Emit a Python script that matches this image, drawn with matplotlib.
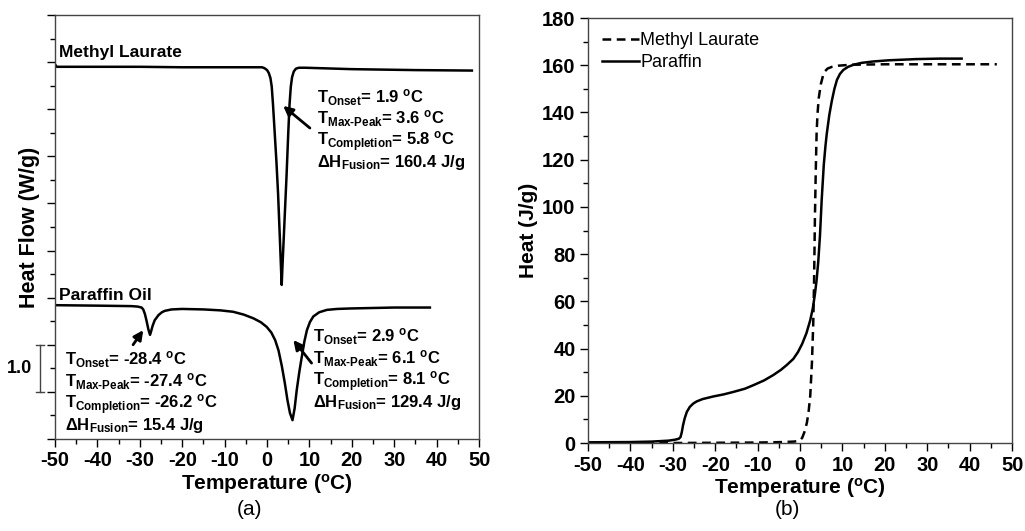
import matplotlib
matplotlib.use("Agg")
import matplotlib.pyplot as plt
from matplotlib.ticker import MultipleLocator

plt.rcParams['font.family'] = ['Liberation Sans', 'DejaVu Sans']
plt.rcParams['font.weight'] = 'bold'
plt.rcParams['mathtext.default'] = 'regular'
plt.rcParams['axes.unicode_minus'] = False

# (a) DSC heat flow curves (offset units, 1 unit = 1.0 W/g)
ml_temp = [-50, -49.6, -45, -30, -20, -10, -4, -2, -1.2, -0.6, 0, 0.4, 0.8, 1.1, 1.4, 1.8,
           2.2, 2.6, 3.0, 3.3, 3.45, 3.6, 3.95, 4.3, 4.6, 5.0, 5.3, 5.6, 5.9, 6.3, 6.8, 7.5,
           9, 20, 35, 48.3]
ml_flow = [7.95, 7.90, 7.90, 7.90, 7.89, 7.89, 7.89, 7.89, 7.89, 7.87, 7.83, 7.77, 7.66,
           7.48, 7.1, 6.5, 5.9, 5.2, 4.3, 3.6, 3.27, 3.6, 4.3, 5.0, 5.6, 6.5, 7.1, 7.48, 7.68,
           7.80, 7.86, 7.88, 7.88, 7.85, 7.83, 7.82]

po_temp = [-50, -40, -32, -30.5, -29.6, -29.2, -28.8, -28.4, -28.0, -27.6, -27.3, -27.0,
           -26.5, -25.6, -24.8, -24.1, -22.5, -20, -15, -11, -8, -5.5, -3.2, -1.5, -0.1, 1.0,
           1.9, 2.7, 3.5, 4.2, 4.8, 5.4, 6.0, 6.5, 7.0, 7.6, 8.2, 8.8, 9.4, 10.1, 10.9, 12.3,
           14.1, 16.5, 19.6, 30, 38.4]
po_flow = [2.84, 2.83, 2.82, 2.81, 2.79, 2.75, 2.65, 2.50, 2.33, 2.21, 2.30, 2.40, 2.52,
           2.63, 2.69, 2.72, 2.75, 2.76, 2.75, 2.73, 2.70, 2.64, 2.56, 2.48, 2.38, 2.26, 2.10,
           1.88, 1.54, 1.18, 0.83, 0.55, 0.40, 0.65, 1.04, 1.42, 1.75, 2.07, 2.31, 2.48, 2.60,
           2.69, 2.74, 2.76, 2.77, 2.79, 2.79]

# (b) cumulative heat
ml_t2 = [-50, -40, -30, -20, -10, -4, -1.5, -0.5, 0, 0.5, 1.0, 1.6, 2.0, 2.4, 2.8, 3.1, 3.3,
         3.5, 3.7, 3.9, 4.1, 4.4, 4.9, 5.4, 5.9, 6.5, 7.5, 9, 12, 20, 30, 46.4]
ml_heat = [0.0, 0.0, 0.0, 0.1, 0.2, 0.4, 0.6, 0.8, 1.2, 2.2, 4.5, 8.5, 13, 20, 34, 50, 68,
           95, 115, 131, 139, 146, 152, 155.5, 157.5, 158.6, 159.3, 159.8, 160.2, 160.4,
           160.4, 160.4]

pa_t2 = [-50, -45, -40, -35, -31, -29.5, -28.6, -28.2, -27.9, -27.6, -27.2, -26.7, -26.0,
         -25.2, -24.4, -23, -20.5, -18, -15.8, -13, -11, -8.5, -6.3, -4.5, -3.1, -1.6, -0.5,
         0.5, 1.5, 2.4, 3.0, 3.5, 3.9, 4.3, 4.7, 5.1, 5.6, 6.0, 6.3, 6.9, 7.5, 8.1, 8.7, 9.4,
         10.2, 11.3, 12.6, 14.5, 17.3, 21, 27.5, 33, 38.1]
pa_heat = [0.3, 0.35, 0.4, 0.6, 1.0, 1.4, 1.8, 2.5, 4.5, 7.5, 10.5, 13.2, 15.3, 16.7, 17.6,
           18.6, 19.7, 20.6, 21.6, 23, 24.5, 26.5, 28.8, 31, 33.1, 35.6, 38.5, 42, 46.5, 52,
           57, 63, 69, 77, 88, 103, 118, 126, 131, 139, 145, 150, 153.8, 156.3, 158, 159.3,
           160.2, 161, 161.6, 162.1, 162.6, 162.8, 162.8]

fig = plt.figure(figsize=(10.25, 5.31), dpi=100)
ax1 = fig.add_axes([0.0537, 0.1733, 0.4137, 0.7985])
ax2 = fig.add_axes([0.5737, 0.1657, 0.4137, 0.8004])

for ax in (ax1, ax2):
    ax.set_xlim(-50, 50)
    ax.xaxis.set_major_locator(MultipleLocator(10))
    ax.xaxis.set_minor_locator(MultipleLocator(5))
    ax.tick_params(which='major', direction='out', length=6, width=1, labelsize=14.5, pad=3)
    ax.tick_params(which='minor', direction='out', length=3.5, width=1)
    for sp in ax.spines.values():
        sp.set_linewidth(1.0)
        sp.set_color('#444444')
    ax.set_xlabel('Temperature ($^{o}$C)', fontsize=15, fontweight='bold', labelpad=1)

# panel (a)
ax1.plot(ml_temp, ml_flow, color='k', lw=1.8)
ax1.plot(po_temp, po_flow, color='k', lw=1.8)
ax1.set_ylim(0, 9)
ax1.yaxis.set_major_locator(MultipleLocator(1))
ax1.yaxis.set_minor_locator(MultipleLocator(0.5))
ax1.set_yticklabels([])
ax1.set_ylabel('Heat Flow (W/g)', fontsize=15.5, fontweight='bold', labelpad=2)

ax1.text(-49, 8.1, 'Methyl Laurate', fontsize=12.5)
ax1.text(-49, 2.95, 'Paraffin Oil', fontsize=12.5)

arrow = dict(arrowstyle='-|>', color='k', lw=2, mutation_scale=14, shrinkA=0, shrinkB=0)
ax1.annotate('', xy=(3.8, 7.07), xytext=(10.1, 6.6), arrowprops=arrow)
ax1.annotate('', xy=(-29.2, 2.31), xytext=(-31.6, 2.0), arrowprops=arrow)
ax1.annotate('', xy=(6.2, 2.10), xytext=(10.5, 1.61), arrowprops=arrow)

mp = 'Max\u2010Peak'
ml_notes = ['T$_{Onset}$= 1.9 $^{o}$C', 'T$_{' + mp + '}$= 3.6 $^{o}$C',
            'T$_{Completion}$= 5.8 $^{o}$C', '\u0394H$_{Fusion}$= 160.4 J/g']
po1_notes = ['T$_{Onset}$= -28.4 $^{o}$C', 'T$_{' + mp + '}$= -27.4 $^{o}$C',
             'T$_{Completion}$= -26.2 $^{o}$C', '\u0394H$_{Fusion}$= 15.4 J/g']
po2_notes = ['T$_{Onset}$= 2.9 $^{o}$C', 'T$_{' + mp + '}$= 6.1 $^{o}$C',
             'T$_{Completion}$= 8.1 $^{o}$C', '\u0394H$_{Fusion}$= 129.4 J/g']

for i, s in enumerate(ml_notes):
    ax1.text(11.8, 7.15 - 0.46 * i, s, fontsize=12)
for i, s in enumerate(po1_notes):
    ax1.text(-47.6, 1.57 - 0.46 * i, s, fontsize=12)
for i, s in enumerate(po2_notes):
    ax1.text(10.9, 2.06 - 0.46 * i, s, fontsize=12)

# scale bar for 1.0 W/g
ax1.plot([-53.5, -53.5], [1, 2], color='#444444', lw=1, clip_on=False)
ax1.plot([-54.5, -52.5], [1, 1], color='#444444', lw=1, clip_on=False)
ax1.plot([-54.5, -52.5], [2, 2], color='#444444', lw=1, clip_on=False)
ax1.text(-55.3, 1.5, '1.0', fontsize=13, ha='right', va='center')

# panel (b)
ax2.plot(ml_t2, ml_heat, color='k', lw=1.8, dashes=(3.5, 2.2), label='Methyl Laurate')
ax2.plot(pa_t2, pa_heat, color='k', lw=1.8, label='Paraffin')
ax2.set_ylim(0, 180)
ax2.yaxis.set_major_locator(MultipleLocator(20))
ax2.yaxis.set_minor_locator(MultipleLocator(10))
ax2.set_ylabel('Heat (J/g)', fontsize=15, fontweight='bold', labelpad=3)
ax2.legend(loc='upper left', frameon=False, prop={'size': 13, 'weight': 'normal'},
           handlelength=2.0, handletextpad=0.1, labelspacing=0.25, borderaxespad=0.4)

fig.text(0.2439, 0.04, '(a)', fontsize=15, fontweight='normal', ha='center', va='center')
fig.text(0.768, 0.04, '(b)', fontsize=15, fontweight='normal', ha='center', va='center')

fig.savefig('out.png', dpi=100)
